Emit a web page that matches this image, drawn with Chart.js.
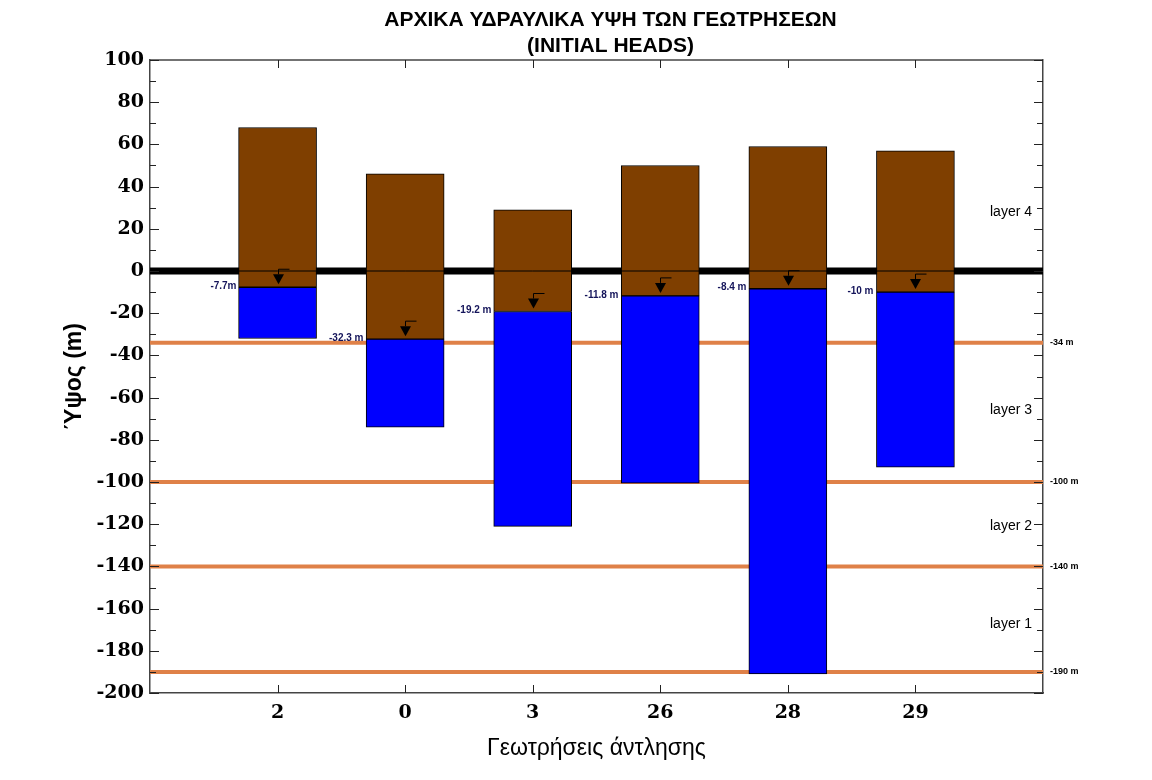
<!DOCTYPE html>
<html>
<head>
<meta charset="utf-8">
<script src="https://cdn.jsdelivr.net/npm/chart.js@4.4.1/dist/chart.umd.min.js"></script>
<style>
  html, body { margin: 0; padding: 0; background: #fff; }
  #wrap { width: 1152px; height: 780px; }
</style>
</head>
<body>
<div id="wrap"><canvas id="wells"></canvas></div>
<script>
const wells = ['2', '0', '3', '26', '28', '29'];
const groundTop = [68, 46, 29, 50, 59, 57];
const waterLevel = [-7.7, -32.3, -19.2, -11.8, -8.4, -10];
const wellBottom = [-32, -74, -121, -100.5, -191, -93];
const waterText = ['-7.7m', '-32.3 m', '-19.2 m', '-11.8 m', '-8.4 m', '-10 m'];
const layerBounds = [-34, -100, -140, -190];
const layerNames = ['layer 4', 'layer 3', 'layer 2', 'layer 1'];
const layerNameAt = [28, -66, -121, -167.5];
const titleLines = ['ΑΡΧΙΚΑ ΥΔΡΑΥΛΙΚΑ ΥΨΗ ΤΩΝ ΓΕΩΤΡΗΣΕΩΝ', '(INITIAL HEADS)'];

// empty slots at both ends so the wells sit one step in from the frame
const labels = ['', ...wells, ''];
const pad = arr => [null, ...arr, null];
const flat = v => labels.map(() => v);

const brown = '#7F3F00';
const blue = '#0000FF';
const orange = '#DF8148';
const frame = '#444';

const decor = {
    id: 'decor',
    afterDatasetsDraw(chart) {
        const { ctx, chartArea: a, scales: { x, y } } = chart;
        ctx.save();

        // title, a little right of the plot centre as in the original
        ctx.fillStyle = '#000';
        ctx.font = 'bold 21px "Liberation Sans"';
        ctx.textAlign = 'center';
        ctx.textBaseline = 'middle';
        const cx = (a.left + a.right) / 2 + 14;
        ctx.fillText(titleLines[0], cx, 20);
        ctx.fillText(titleLines[1], cx, 46);

        // top edge of the frame
        ctx.strokeStyle = frame;
        ctx.lineWidth = 1.5;
        ctx.beginPath();
        ctx.moveTo(a.left, a.top);
        ctx.lineTo(a.right, a.top);
        ctx.stroke();

        // inward tick marks, left and right
        ctx.lineWidth = 1;
        ctx.strokeStyle = '#222';
        for (let v = -200; v <= 100; v += 10) {
            const py = Math.round(y.getPixelForValue(v)) + 0.5;
            const len = v % 20 === 0 ? 9 : 6;
            ctx.beginPath();
            ctx.moveTo(a.left, py);
            ctx.lineTo(a.left + len, py);
            ctx.moveTo(a.right, py);
            ctx.lineTo(a.right - len, py);
            ctx.stroke();
        }

        wells.forEach((w, i) => {
            const px = Math.round(x.getPixelForValue(i + 1)) + 0.5;
            // inward tick marks, top and bottom
            ctx.strokeStyle = '#222';
            ctx.beginPath();
            ctx.moveTo(px, a.top);
            ctx.lineTo(px, a.top + 8);
            ctx.moveTo(px, a.bottom);
            ctx.lineTo(px, a.bottom - 8);
            ctx.stroke();

            // water level symbol
            const wy = y.getPixelForValue(waterLevel[i]);
            ctx.fillStyle = '#000';
            ctx.beginPath();
            ctx.moveTo(px, wy - 3);
            ctx.lineTo(px - 5.5, wy - 13);
            ctx.lineTo(px + 5.5, wy - 13);
            ctx.closePath();
            ctx.fill();
            ctx.strokeStyle = '#000';
            ctx.beginPath();
            ctx.moveTo(px, wy - 13);
            ctx.lineTo(px, wy - 18);
            ctx.lineTo(px + 11, wy - 18);
            ctx.stroke();

            // water level text
            ctx.fillStyle = '#14145A';
            ctx.font = 'bold 10px "Liberation Sans"';
            ctx.textAlign = 'right';
            ctx.textBaseline = 'middle';
            ctx.fillText(waterText[i], px - 42, wy - 1);
        });

        ctx.fillStyle = '#000';
        ctx.font = '14px "Liberation Sans"';
        ctx.textAlign = 'right';
        ctx.textBaseline = 'middle';
        layerNames.forEach((n, i) => {
            ctx.fillText(n, a.right - 11, y.getPixelForValue(layerNameAt[i]));
        });

        ctx.restore();
    }
};

const hline = (v, color, width, order) => ({
    type: 'line',
    data: flat(v),
    borderColor: color,
    borderWidth: width,
    pointRadius: 0,
    fill: false,
    order: order
});

new Chart(document.getElementById('wells'), {
    type: 'bar',
    data: {
        labels: labels,
        datasets: [
            hline(0, '#000', 7, 10),
            ...layerBounds.map(v => hline(v, orange, 4, 9)),
            {
                data: pad(wells.map((w, i) => [waterLevel[i], groundTop[i]])),
                backgroundColor: brown,
                borderColor: '#000',
                borderWidth: 1,
                borderSkipped: false,
                grouped: false,
                barThickness: 78,
                order: 5
            },
            {
                data: pad(wells.map((w, i) => [wellBottom[i], waterLevel[i]])),
                backgroundColor: blue,
                borderColor: '#000',
                borderWidth: 1,
                borderSkipped: false,
                grouped: false,
                barThickness: 78,
                order: 4
            },
            hline(0, '#000', 1, 1)
        ]
    },
    options: {
        responsive: true,
        maintainAspectRatio: false,
        animation: false,
        devicePixelRatio: 1,
        layout: { padding: { top: 60 } },
        plugins: {
            legend: { display: false },
            tooltip: { enabled: false },
            title: { display: false }
        },
        scales: {
            x: {
                type: 'category',
                offset: false,
                grid: { display: false, drawTicks: false },
                border: { display: true, color: frame, width: 1.5 },
                ticks: {
                    color: '#000',
                    font: { family: 'DejaVu Serif', size: 19, weight: 'bold' },
                    padding: 9,
                    autoSkip: false,
                    maxRotation: 0
                },
                title: {
                    display: true,
                    text: 'Γεωτρήσεις άντλησης',
                    color: '#000',
                    font: { family: 'Liberation Sans', size: 23 },
                    padding: { top: 0, bottom: 18 }
                },
                afterFit(s) { s.height = 87; }
            },
            y: {
                min: -200,
                max: 100,
                grid: { display: false, drawTicks: false },
                border: { display: true, color: frame, width: 1.5 },
                ticks: {
                    stepSize: 20,
                    color: '#000',
                    font: { family: 'DejaVu Serif', size: 19, weight: 'bold' },
                    padding: 6
                },
                title: {
                    display: true,
                    text: 'Ύψος (m)',
                    color: '#000',
                    font: { family: 'Liberation Sans', size: 23, weight: 'bold' },
                    padding: { top: 61, bottom: 0 }
                },
                afterFit(s) { s.width = 150; }
            },
            y2: {
                position: 'right',
                min: -200,
                max: 100,
                grid: { display: false, drawTicks: false },
                border: { display: true, color: frame, width: 1.5 },
                afterBuildTicks(s) { s.ticks = layerBounds.map(v => ({ value: v })); },
                ticks: {
                    autoSkip: false,
                    color: '#000',
                    font: { family: 'Liberation Sans', size: 9, weight: 'bold' },
                    padding: 7,
                    callback: v => v + ' m'
                },
                afterFit(s) { s.width = 109; }
            }
        }
    },
    plugins: [decor]
});
</script>
</body>
</html>
